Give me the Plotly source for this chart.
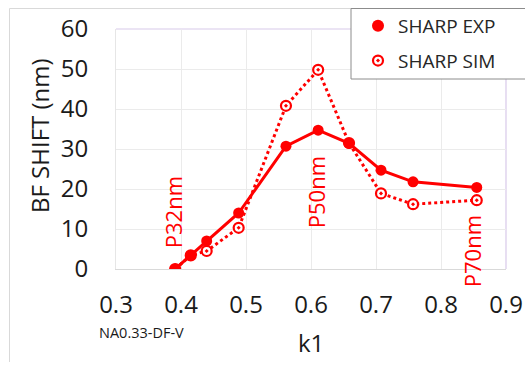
import plotly.graph_objects as go

# ---- data ----
k1 = [0.391, 0.415, 0.4395, 0.4887, 0.5615, 0.611, 0.6585, 0.7077, 0.757, 0.855]
sharp_exp = [0.0, 3.4, 7.0, 14.0, 30.7, 34.7, 31.4, 24.7, 21.8, 20.4]
sharp_sim = [0.0, 3.4, 4.5, 10.3, 40.8, 49.8, 31.5, 18.9, 16.2, 17.2]
x_ticks = [0.3, 0.4, 0.5, 0.6, 0.7, 0.8, 0.9]
y_ticks = [0, 10, 20, 30, 40, 50, 60]
pitch_labels = ["P32nm", "P50nm", "P70nm"]
pitch_x = [0.3877, 0.6077, 0.849]
pitch_y = [14.2, 19.2, 4.4]

RED = "#ff0000"
FONT = "Open Sans"

fig = go.Figure()

fig.add_trace(go.Scatter(
    x=k1, y=sharp_sim, mode="lines+markers", name="SHARP SIM", showlegend=False,
    line=dict(color=RED, width=3, dash="dot"),
    marker=dict(symbol="circle-dot", size=10, color="white", line=dict(color=RED, width=2.2)),
))
fig.add_trace(go.Scatter(
    x=k1, y=sharp_exp, mode="lines+markers", name="SHARP EXP", showlegend=False,
    line=dict(color=RED, width=3),
    marker=dict(symbol="circle", size=11, color=RED),
))
# legend entries (markers only)
fig.add_trace(go.Scatter(
    x=[None], y=[None], mode="markers", name="SHARP EXP", legendgroup="a",
    marker=dict(symbol="circle", size=12, color=RED),
))
fig.add_trace(go.Scatter(
    x=[None], y=[None], mode="markers", name="SHARP SIM", legendgroup="b",
    marker=dict(symbol="circle-dot", size=10, color="white", line=dict(color=RED, width=2.2)),
))

L, R, T, B = 116, 19, 29, 103
W, H = 525, 372
pw, ph = W - L - R, H - T - B


def px(xp):
    return (xp - L) / pw


def py(yp):
    return (H - B - yp) / ph


annotations = []
for txt, xv, yv in zip(pitch_labels, pitch_x, pitch_y):
    annotations.append(dict(
        x=xv, y=yv, xref="x", yref="y", text=txt, textangle=-90, showarrow=False,
        xanchor="center", yanchor="middle", font=dict(family=FONT, size=22, color=RED)))
annotations += [
    dict(x=px(39), y=py(136), xref="paper", yref="paper", text="BF SHIFT (nm)", textangle=-90,
         showarrow=False, xanchor="center", yanchor="middle",
         font=dict(family=FONT, size=24, color="#1a1a1a")),
    dict(x=px(311), y=py(342), xref="paper", yref="paper", text="k1",
         showarrow=False, xanchor="center", yanchor="middle",
         font=dict(family=FONT, size=24, color="#1a1a1a")),
    dict(x=px(141.5), y=py(332), xref="paper", yref="paper", text="NA0.33-DF-V",
         showarrow=False, xanchor="center", yanchor="middle",
         font=dict(family=FONT, size=14.5, color="#1a1a1a")),
]

shapes = [
    # outer chart frame (left & top)
    dict(type="line", xref="paper", yref="paper", x0=px(9.5), x1=px(9.5), y0=py(8.5), y1=py(362),
         line=dict(color="#d9d9d9", width=1)),
    dict(type="line", xref="paper", yref="paper", x0=px(9.5), x1=px(351), y0=py(8.5), y1=py(8.5),
         line=dict(color="#d9d9d9", width=1)),
    # plot area top/right border
    dict(type="line", xref="paper", yref="paper", x0=0, x1=1, y0=1, y1=1,
         line=dict(color="#d8c9e9", width=1.2), layer="below"),
    dict(type="line", xref="paper", yref="paper", x0=1, x1=1, y0=0, y1=1,
         line=dict(color="#d8c9e9", width=1.2), layer="below"),
    # legend box
    dict(type="rect", xref="paper", yref="paper", x0=px(351), x1=px(540), y0=py(79), y1=py(8.5),
         line=dict(color="#8c8c8c", width=1), fillcolor="white", layer="above"),
]

fig.update_layout(
    width=W, height=H,
    margin=dict(l=L, r=R, t=T, b=B, pad=0, autoexpand=False),
    paper_bgcolor="white", plot_bgcolor="white",
    font=dict(family=FONT, color="#1a1a1a"),
    xaxis=dict(range=[0.3, 0.9], tickvals=x_ticks, ticktext=[f"{v:.1f}" for v in x_ticks],
               showgrid=True, gridcolor="#ebebeb", gridwidth=1, zeroline=False,
               showline=True, linecolor="#d9d9d9", linewidth=1,
               ticks="outside", ticklen=14, tickcolor="rgba(0,0,0,0)",
               tickfont=dict(family=FONT, size=24, color="#1a1a1a")),
    yaxis=dict(range=[0, 60], tickvals=y_ticks, ticktext=[str(v) for v in y_ticks],
               showgrid=True, gridcolor="#ebebeb", gridwidth=1, zeroline=False,
               showline=True, linecolor="#e6e6e6", linewidth=1,
               ticks="outside", ticklen=22, tickcolor="rgba(0,0,0,0)",
               tickfont=dict(family=FONT, size=24, color="#1a1a1a")),
    showlegend=True,
    legend=dict(xref="container", yref="container", x=358 / W, y=1 - 7 / H,
                xanchor="left", yanchor="top",
                bgcolor="rgba(0,0,0,0)", borderwidth=0,
                font=dict(family=FONT, size=19, color="#262626"),
                tracegroupgap=7, traceorder="grouped"),
    annotations=annotations,
    shapes=shapes,
)

fig.write_html("out.html")
